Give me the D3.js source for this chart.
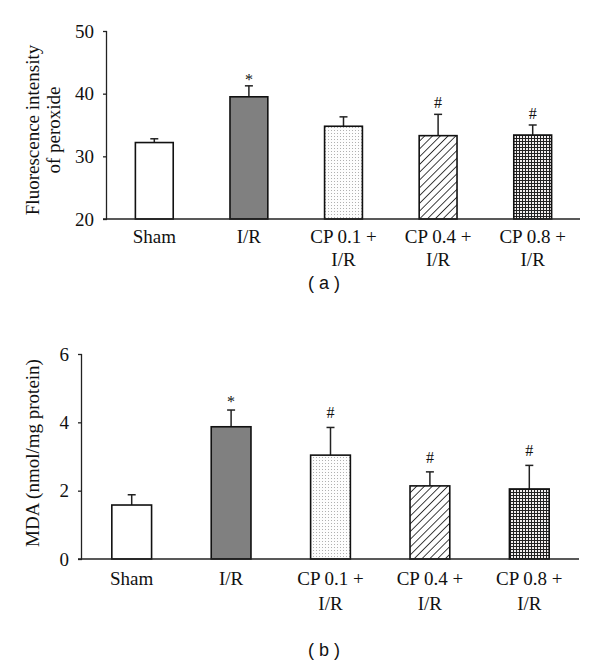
<!DOCTYPE html>
<html>
<head>
<meta charset="utf-8">
<script src="https://cdn.jsdelivr.net/npm/d3@7"></script>
<style>
  body { margin: 0; background: #fff; }
  text { font-family: "Liberation Serif", "Times New Roman", serif; fill: #111; }
  text.letter { font-family: "Liberation Sans", Arial, sans-serif; }
</style>
</head>
<body>
<svg id="chart" width="600" height="666"></svg>
<script>
// groups shown on both panels
var groups = ["Sham", "I/R", "CP 0.1 + I/R", "CP 0.4 + I/R", "CP 0.8 + I/R"];
var groupLines = [["Sham"], ["I/R"], ["CP 0.1 +", "I/R"], ["CP 0.4 +", "I/R"], ["CP 0.8 +", "I/R"]];
var marks = ["", "*", "", "#", "#"];
var marksB = ["", "*", "#", "#", "#"];

// panel a: fluorescence intensity of peroxide
var peroxMean = [32.2, 39.5, 34.8, 33.3, 33.4];
var peroxErr = [0.6, 1.75, 1.5, 3.4, 1.6];
var peroxTicks = [20, 30, 40, 50];

// panel b: MDA
var mdaMean = [1.58, 3.87, 3.04, 2.14, 2.05];
var mdaErr = [0.3, 0.49, 0.81, 0.41, 0.69];
var mdaTicks = [0, 2, 4, 6];

var fills = ["#fff", "#808080", "url(#dots)", "url(#hatch)", "url(#grid)"];

var svg = d3.select("#chart");

// patterns for the CP bars
var defs = svg.append("defs");
var dots = defs.append("pattern").attr("id", "dots").attr("patternUnits", "userSpaceOnUse")
  .attr("width", 3).attr("height", 3);
dots.append("rect").attr("width", 3).attr("height", 3).attr("fill", "#fdfdfd");
dots.append("rect").attr("x", 1).attr("y", 1).attr("width", 1).attr("height", 1).attr("fill", "#b0b0b0");

var hatch = defs.append("pattern").attr("id", "hatch").attr("patternUnits", "userSpaceOnUse")
  .attr("width", 5.5).attr("height", 5.5).attr("patternTransform", "rotate(45)");
hatch.append("rect").attr("width", 5.5).attr("height", 5.5).attr("fill", "#fff");
hatch.append("line").attr("x1", 0).attr("y1", 0).attr("x2", 0).attr("y2", 5.5)
  .attr("stroke", "#111").attr("stroke-width", 1.6);

var grid = defs.append("pattern").attr("id", "grid").attr("patternUnits", "userSpaceOnUse")
  .attr("width", 3).attr("height", 3);
grid.append("rect").attr("width", 3).attr("height", 3).attr("fill", "#f2eeee");
grid.append("path").attr("d", "M0,0.5H3M0.5,0V3").attr("stroke", "#222").attr("stroke-width", 1);

function drawPanel(cfg) {
  var g = svg.append("g");
  var x = d3.scaleBand().domain(groups).range([cfg.left, cfg.right])
    .paddingInner(0.6).paddingOuter(0.3);
  var y = d3.scaleLinear().domain(cfg.domain).range([cfg.bottom, cfg.top]);

  // y axis
  var ya = g.append("g").attr("transform", "translate(" + cfg.left + ",0)")
    .call(d3.axisLeft(y).tickValues(cfg.ticks).tickFormat(d3.format("d")).tickSize(4).tickPadding(9));
  ya.select(".domain").attr("d", "M-0.5," + cfg.top + "V" + cfg.bottom).attr("stroke", "#222").attr("stroke-width", 1.3);
  ya.selectAll(".tick line").attr("stroke", "#222").attr("stroke-width", 1.3);
  ya.selectAll(".tick text").style("font-size", "19px").attr("fill", "#111");

  // error bars (upper only)
  var eb = g.selectAll(".err").data(groups).enter().append("g");
  eb.append("line")
    .attr("x1", function(d) { return x(d) + x.bandwidth() / 2; })
    .attr("x2", function(d) { return x(d) + x.bandwidth() / 2; })
    .attr("y1", function(d, i) { return y(cfg.mean[i]); })
    .attr("y2", function(d, i) { return y(cfg.mean[i] + cfg.err[i]); })
    .attr("stroke", "#222").attr("stroke-width", 1.5);
  eb.append("line")
    .attr("x1", function(d) { return x(d) + x.bandwidth() / 2 - 4; })
    .attr("x2", function(d) { return x(d) + x.bandwidth() / 2 + 4; })
    .attr("y1", function(d, i) { return y(cfg.mean[i] + cfg.err[i]); })
    .attr("y2", function(d, i) { return y(cfg.mean[i] + cfg.err[i]); })
    .attr("stroke", "#222").attr("stroke-width", 1.5);

  // bars
  g.selectAll(".bar").data(groups).enter().append("rect")
    .attr("x", function(d) { return x(d); })
    .attr("width", x.bandwidth())
    .attr("y", function(d, i) { return y(cfg.mean[i]); })
    .attr("height", function(d, i) { return y(cfg.domain[0]) - y(cfg.mean[i]); })
    .attr("fill", function(d, i) { return fills[i]; })
    .attr("stroke", "#111").attr("stroke-width", 1.6);

  // x axis line
  g.append("line").attr("x1", cfg.left - 4).attr("x2", cfg.right)
    .attr("y1", cfg.bottom).attr("y2", cfg.bottom)
    .attr("stroke", "#222").attr("stroke-width", 1.3);

  // significance marks
  g.selectAll(".mark").data(groups).enter().append("text")
    .attr("x", function(d) { return x(d) + x.bandwidth() / 2; })
    .attr("y", function(d, i) {
      var gap = cfg.marks[i] === "*" ? cfg.starGap : cfg.hashGap;
      return y(cfg.mean[i] + cfg.err[i]) - gap;
    })
    .attr("text-anchor", "middle").style("font-size", "16px")
    .text(function(d, i) { return cfg.marks[i]; });

  // category labels
  var lab = g.selectAll(".lab").data(groups).enter().append("text")
    .attr("x", function(d) { return x(d) + x.bandwidth() / 2; })
    .attr("y", cfg.bottom + cfg.labGap)
    .attr("text-anchor", "middle").style("font-size", "19px");
  lab.selectAll("tspan").data(function(d, i) { return groupLines[i]; }).enter().append("tspan")
    .attr("x", function() { return d3.select(this.parentNode).attr("x"); })
    .attr("dy", function(d, j) { return j === 0 ? 0 : cfg.lineGap; })
    .text(function(d) { return d; });

  // y title
  var yt = g.append("text").attr("transform", "translate(" + cfg.titleX + "," + cfg.titleY + ") rotate(-90)")
    .attr("text-anchor", "middle").style("font-size", "19px");
  yt.selectAll("tspan").data(cfg.title).enter().append("tspan")
    .attr("x", 0).attr("dy", function(d, j) { return j === 0 ? 0 : 21; })
    .text(function(d) { return d; });

  // panel letter
  g.append("text").attr("class", "letter").attr("x", cfg.letterX).attr("y", cfg.letterY)
    .attr("text-anchor", "middle").style("font-size", "18px").text(cfg.letter);
}

drawPanel({
  left: 107, right: 580, top: 31, bottom: 219,
  domain: [20, 50], ticks: peroxTicks,
  mean: peroxMean, err: peroxErr, marks: marks, starGap: 1, hashGap: 6,
  labGap: 24, lineGap: 23,
  title: ["Fluorescence intensity", "of peroxide"], titleX: 39, titleY: 130,
  letter: "( a )", letterX: 324, letterY: 289
});

drawPanel({
  left: 82, right: 579, top: 354, bottom: 559,
  domain: [0, 6], ticks: mdaTicks,
  mean: mdaMean, err: mdaErr, marks: marksB, starGap: 3, hashGap: 9,
  labGap: 26, lineGap: 25,
  title: ["MDA (nmol/mg protein)"], titleX: 39, titleY: 453,
  letter: "( b )", letterX: 324, letterY: 656
});
</script>
</body>
</html>
